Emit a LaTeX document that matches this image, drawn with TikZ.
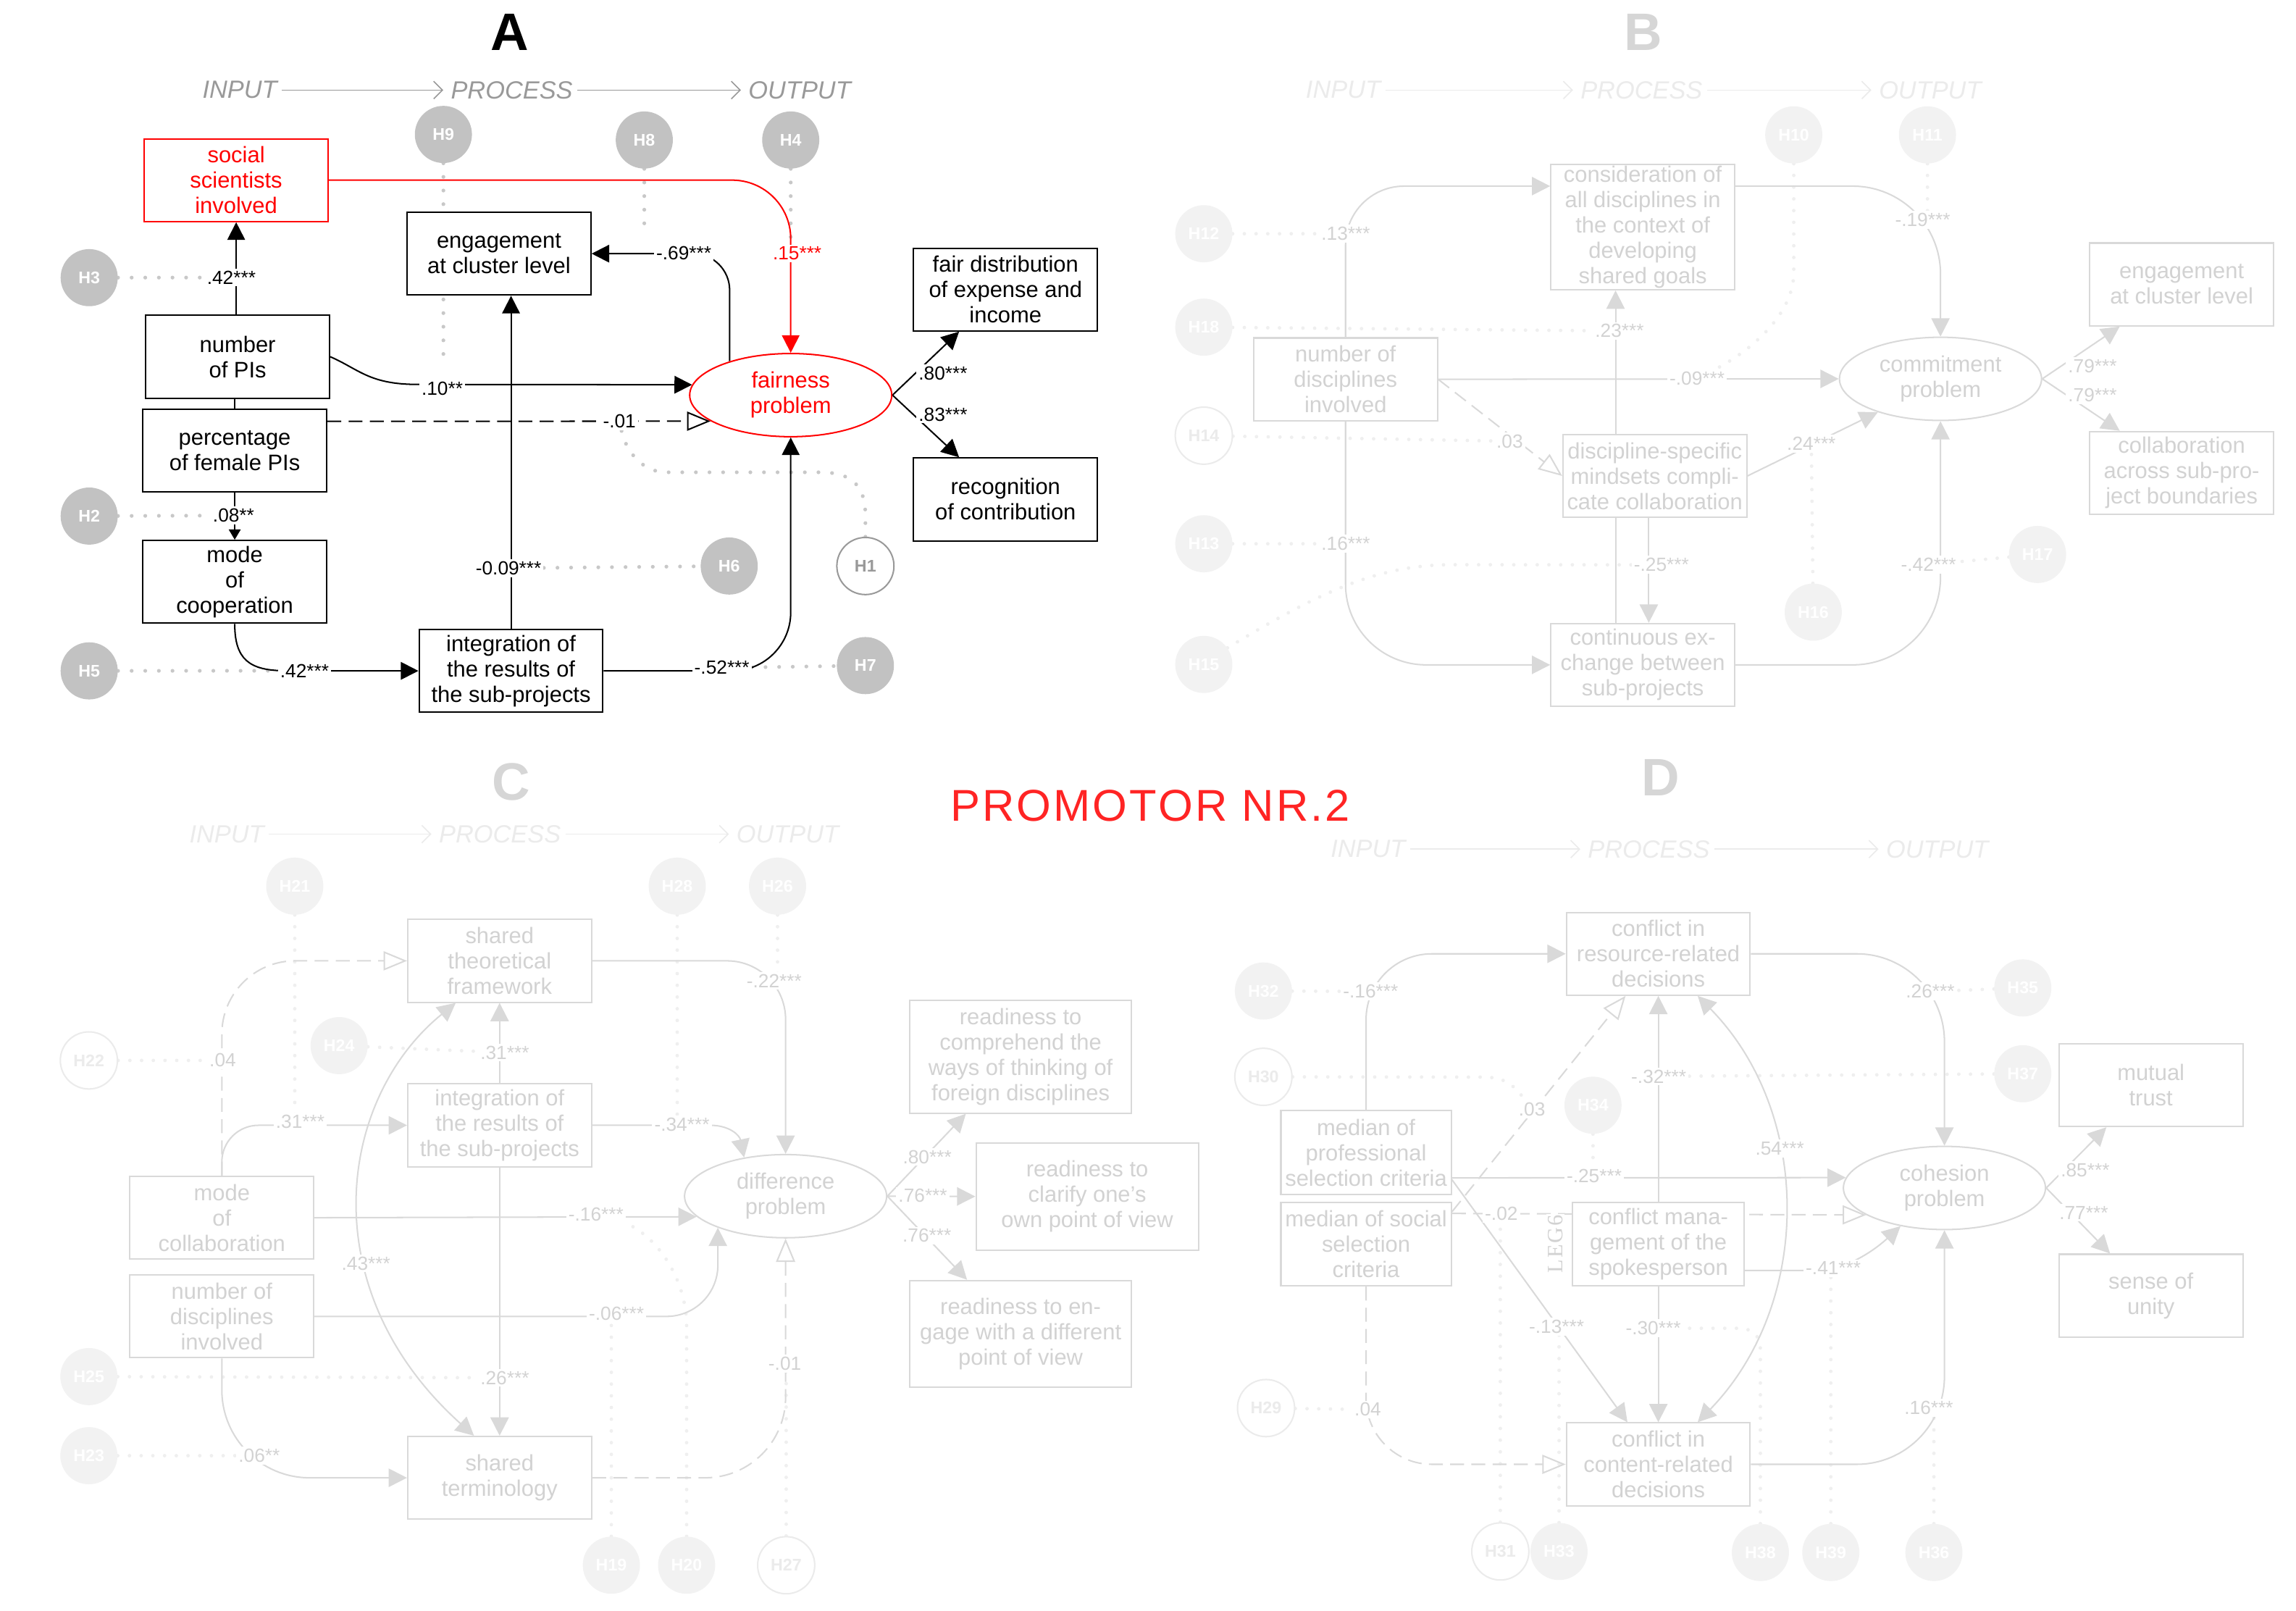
\documentclass[tikz,border=0pt]{standalone}
\usepackage{fontspec}
\setmainfont{Liberation Sans}
\newfontfamily\legfont[LetterSpace=6]{Liberation Serif}
\newfontfamily\promofont[LetterSpace=5]{Liberation Sans}
\usetikzlibrary{arrows.meta,shapes.geometric}

\pgfdeclarelayer{paper}
\pgfdeclarelayer{dots}
\pgfdeclarelayer{wires}
\pgfdeclarelayer{tags}
\pgfsetlayers{paper,dots,wires,main,tags}

\definecolor{hypA}{HTML}{C2C2C2}
\definecolor{dotA}{HTML}{C8C8C8}
\definecolor{ioA}{HTML}{999999}
\definecolor{redA}{HTML}{FF0000}
\definecolor{promo}{HTML}{FF2424}
\definecolor{pale}{HTML}{D9D9D9}
\definecolor{paleText}{HTML}{D2D2D2}
\definecolor{paleHyp}{HTML}{F2F2F2}
\definecolor{paleDot}{HTML}{EFEFEF}
\definecolor{paleRing}{HTML}{EBEBEB}
\definecolor{paleIO}{HTML}{EBEBEB}
\definecolor{paleLetter}{HTML}{D6D6D6}

\newcommand\bxfont{\fontsize{15.3}{17.3}\selectfont}
\newcommand\lbfont{\fontsize{13}{14}\selectfont}
\newcommand\hyfont{\fontsize{11.5}{12}\selectfont\bfseries}
\newcommand\iofont{\fontsize{17}{19}\selectfont\itshape}
\newcommand\ttlfont{\fontsize{36}{40}\selectfont\bfseries}

\begin{document}
\begin{tikzpicture}[x=1pt, y=-1pt,
  bx/.style={draw, fill=white, line width=1pt, minimum width=125.5pt, minimum height=56.5pt, inner sep=0pt, align=center, font=\bxfont},
  bxA/.style={bx, draw=black, text=black},
  bxP/.style={bx, draw=pale, text=paleText},
  latent/.style={ellipse, draw, fill=white, line width=1pt, minimum width=138pt, minimum height=56.8pt, inner sep=0pt, align=center, font=\bxfont},
  latA/.style={latent, draw=redA, text=redA},
  latP/.style={latent, draw=pale, text=paleText},
  hyp/.style={circle, minimum size=39pt, inner sep=0pt, font=\hyfont},
  hypA/.style={hyp, fill=hypA, text=white},
  hypAo/.style={hyp, fill=white, draw=ioA, line width=1pt, text=ioA},
  hypP/.style={hyp, fill=paleHyp, text=white},
  hypPo/.style={hyp, fill=white, draw=paleRing, line width=1pt, text=paleRing},
  lab/.style={fill=white, inner sep=1.5pt, font=\lbfont},
  labA/.style={lab, text=black},
  labP/.style={lab, text=paleText},
  io/.style={inner sep=0pt, font=\iofont},
  ioTA/.style={io, text=ioA},
  ioTP/.style={io, text=paleIO},
  ioArrA/.style={draw=ioA, line width=0.8pt, -{Straight Barb[length=6pt,width=12pt]}, shorten <=3pt, shorten >=5pt},
  ioArrP/.style={draw=paleIO, line width=0.8pt, -{Straight Barb[length=6pt,width=12pt]}, shorten <=3pt, shorten >=5pt},
  ttlA/.style={font=\ttlfont, text=black},
  ttlP/.style={font=\ttlfont, text=paleLetter},
  wireA/.style={draw=black, line width=1pt},
  arrA/.style={wireA, -{Triangle[length=12pt,width=12pt]}},
  arrAs/.style={wireA, -{Triangle[length=7pt,width=8pt]}},
  arrR/.style={draw=redA, line width=1pt, -{Triangle[length=12pt,width=12pt]}},
  dashA/.style={wireA, dash pattern=on 9.5pt off 5pt, -{Triangle[open,length=16pt,width=13pt]}},
  wireP/.style={draw=pale, line width=1pt},
  arrP/.style={wireP, -{Triangle[length=12.5pt,width=12.5pt]}},
  arrPboth/.style={wireP, {Triangle[length=12.5pt,width=12.5pt]}-{Triangle[length=12.5pt,width=12.5pt]}},
  dashP/.style={wireP, dash pattern=on 9.5pt off 5pt, -{Triangle[open,length=16pt,width=13pt]}},
  dotsA/.style={draw=dotA, line width=2.6pt, line cap=round, dash pattern=on 0pt off 9.3pt},
  dotsP/.style={draw=paleDot, line width=2.4pt, line cap=round, dash pattern=on 0pt off 8pt}
]
\begin{pgfonlayer}{paper}
\fill[white] (0,0) rectangle (1568,1100);
\end{pgfonlayer}
\useasboundingbox (0,0) rectangle (1568,1100);

% ---------------- panel A: nodes ----------------
\node[ttlA] (tA) at (348,22) {A};
\node[ioTA, anchor=east] (inA) at (189.5,61.5) {INPUT};
\node[ioTA] (prA) at (349.5,61.5) {PROCESS};
\node[ioTA, anchor=west] (outA) at (511,61.5) {OUTPUT};

\node[bxA, draw=redA, text=redA] (soc) at (161.3,123) {social\\scientists\\involved};
\node[bxA] (npi) at (162.3,243.6) {number\\of PIs};
\node[bxA] (pct) at (160.3,307.8) {percentage\\of female PIs};
\node[bxA] (mode) at (160.3,397.3) {mode\\of\\cooperation};
\node[bxA] (integ) at (349,458.1) {integration of\\the results of\\the sub-projects};
\node[bxA] (engA) at (340.8,173.2) {engagement\\at cluster level};
\node[latA] (fair) at (540,269.8) {fairness\\problem};
\node[bxA] (fdist) at (686.7,197.7) {fair distribution\\of expense and\\income};
\node[bxA] (recog) at (686.7,341) {recognition\\of contribution};

\node[hypA] (H9) at (302.8,91.8) {H9};
\node[hypA] (H8) at (440,95.6) {H8};
\node[hypA] (H4) at (540,95.6) {H4};
\node[hypA] (H3) at (60.9,189.6) {H3};
\node[hypA] (H2) at (60.9,352.4) {H2};
\node[hypA] (H5) at (60.9,458.1) {H5};
\node[hypA] (H6) at (498,386.5) {H6};
\node[hypAo] (H1) at (591,386.5) {H1};
\node[hypA] (H7) at (591,454.5) {H7};

% ---------------- panel B: nodes ----------------
\node[ttlP] (tB) at (1122,22) {B};
\node[ioTP, anchor=east] (inB) at (943,61.5) {INPUT};
\node[ioTP] (prB) at (1121,61.5) {PROCESS};
\node[ioTP, anchor=west] (outB) at (1283,61.5) {OUTPUT};

\node[bxP] (ndisc) at (918.9,259) {number of\\disciplines\\involved};
\node[bxP, minimum height=85.8pt] (cons) at (1121.9,155) {consideration of\\all disciplines in\\the context of\\developing\\shared goals};
\node[bxP] (dspec) at (1130.1,325) {discipline-specific\\mindsets compli-\\cate collaboration};
\node[bxP] (cont) at (1121.9,454) {continuous ex-\\change between\\sub-projects};
\node[latP] (commit) at (1325.2,258.7) {commitment\\problem};
\node[bxP] (engB) at (1489.9,194.2) {engagement\\at cluster level};
\node[bxP] (collab) at (1489.9,322.9) {collaboration\\across sub-pro-\\ject boundaries};

\node[hypP] (H12) at (822.1,159.6) {H12};
\node[hypP] (H18) at (822.1,223.4) {H18};
\node[hypPo] (H14) at (822.1,297.5) {H14};
\node[hypP] (H13) at (822.1,371.3) {H13};
\node[hypP] (H15) at (822.1,453.7) {H15};
\node[hypP] (H10) at (1225,92.1) {H10};
\node[hypP] (H11) at (1316.3,92.1) {H11};
\node[hypP] (H16) at (1238.3,418) {H16};
\node[hypP] (H17) at (1391.5,378.6) {H17};

% ---------------- panel C: nodes ----------------
\node[ttlP] (tC) at (349,534) {C};
\node[ioTP, anchor=east] (inC) at (180.6,569.6) {INPUT};
\node[ioTP] (prC) at (341.4,569.6) {PROCESS};
\node[ioTP, anchor=west] (outC) at (502.8,569.6) {OUTPUT};

\node[bxP] (ctheo) at (341.2,656.1) {shared\\theoretical\\framework};
\node[bxP] (cinteg) at (341.2,768.4) {integration of\\the results of\\the sub-projects};
\node[bxP] (cmode) at (151.5,831.5) {mode\\of\\collaboration};
\node[bxP] (cndisc) at (151.5,898.9) {number of\\disciplines\\involved};
\node[bxP] (cterm) at (341.2,1009.1) {shared\\terminology};
\node[latP] (diff) at (536.5,816.8) {difference\\problem};
\node[bxP, minimum width=151.3pt, minimum height=76.9pt] (rcomp) at (697,721.6) {readiness to\\comprehend the\\ways of thinking of\\foreign disciplines};
\node[bxP, minimum width=151.9pt, minimum height=73.3pt] (rclar) at (742.5,817) {readiness to\\clarify one's\\own point of view};
\node[bxP, minimum width=151.3pt, minimum height=72.9pt] (reng) at (697,910.8) {readiness to en-\\gage with a different\\point of view};

\node[hypP] (H21) at (201.3,605.1) {H21};
\node[hypP] (H28) at (462.5,605.1) {H28};
\node[hypP] (H26) at (531,605.1) {H26};
\node[hypPo] (H22) at (60.7,724.1) {H22};
\node[hypP] (H24) at (231.6,714) {H24};
\node[hypP] (H25) at (60.7,940) {H25};
\node[hypP] (H23) at (60.7,994) {H23};
\node[hypP] (H19) at (417.5,1068.8) {H19};
\node[hypP] (H20) at (468.9,1068.8) {H20};
\node[hypPo] (H27) at (536.9,1068.8) {H27};

\node[text=promo, font=\promofont\fontsize{30.4}{34}\selectfont] (promo) at (785.5,550) {PROMOTOR NR.2};

% ---------------- panel D: nodes ----------------
\node[ttlP] (tD) at (1134,531) {D};
\node[ioTP, anchor=east] (inD) at (960,579.8) {INPUT};
\node[ioTP] (prD) at (1126,579.8) {PROCESS};
\node[ioTP, anchor=west] (outD) at (1287.9,579.8) {OUTPUT};

\node[bxP] (dres) at (1132.5,651.3) {conflict in\\resource-related\\decisions};
\node[bxP, minimum width=116.3pt, minimum height=57pt] (dprof) at (932.9,787) {median of\\professional\\selection criteria};
\node[bxP, minimum width=116.3pt, minimum height=57pt] (dsoc) at (932.9,849.5) {median of social\\selection\\criteria};
\node[bxP, minimum width=116.9pt, minimum height=57pt] (dmgmt) at (1132.5,849.5) {conflict mana-\\gement of the\\spokesperson};
\node[bxP] (dcont) at (1132.5,999.9) {conflict in\\content-related\\decisions};
\node[latP] (coh) at (1327.9,811.2) {cohesion\\problem};
\node[bxP] (trust) at (1468.9,741) {mutual\\trust};
\node[bxP] (unity) at (1468.9,884.7) {sense of\\unity};
\node[fill=white, inner sep=1pt, text=paleText, rotate=90, font=\legfont\fontsize{15}{16}\selectfont] (leg) at (1062.2,849.5) {LEG6};

\node[hypP] (H32) at (862.8,676.7) {H32};
\node[hypPo] (H30) at (862.8,735.3) {H30};
\node[hypP] (H34) at (1087.9,754.7) {H34};
\node[hypPo] (H29) at (864.6,961.5) {H29};
\node[hypPo] (H31) at (1024.6,1059.4) {H31};
\node[hypP] (H33) at (1064.7,1059.4) {H33};
\node[hypP] (H38) at (1202.2,1060.1) {H38};
\node[hypP] (H39) at (1250.3,1060.1) {H39};
\node[hypP] (H36) at (1320.7,1060.1) {H36};
\node[hypP] (H35) at (1381.4,674.6) {H35};
\node[hypP] (H37) at (1381.4,733.2) {H37};

% ---------------- path coefficients ----------------
\begin{pgfonlayer}{tags}
\node[labA] (lAa) at (158,189.5) {.42***};
\node[labA] (lAb) at (159.5,352) {.08**};
\node[labA] (lAc) at (208,458) {.42***};
\node[labA] (lAd) at (347.3,388) {-0.09***};
\node[labA] (lAe) at (302,265.5) {.10**};
\node[labA] (lAf) at (423,287.7) {-.01};
\node[labA] (lAg) at (467,173) {-.69***};
\node[labA, text=redA] (lAh) at (544.4,173) {.15***};
\node[labA] (lAi) at (493,456) {-.52***};
\node[labA] (lAj) at (644,255) {.80***};
\node[labA] (lAk) at (644,283) {.83***};

\node[labP] (lBa) at (919,159.6) {.13***};
\node[labP] (lBb) at (1106,226) {.23***};
\node[labP] (lBc) at (1159,258.5) {-.09***};
\node[labP] (lBd) at (1031,301.3) {.03};
\node[labP] (lBe) at (919,371.3) {.16***};
\node[labP] (lBf) at (1134.6,385.7) {-.25***};
\node[labP] (lBg) at (1313,150) {-.19***};
\node[labP] (lBh) at (1237,303) {.24***};
\node[labP] (lBi) at (1317,385.5) {-.42***};
\node[labP] (lBj) at (1429,250) {.79***};
\node[labP] (lBk) at (1429,270) {.79***};

\node[labP] (lCa) at (152.1,724.1) {.04};
\node[labP] (lCb) at (205,766) {.31***};
\node[labP] (lCc) at (344.7,718.7) {.31***};
\node[labP] (lCd) at (249.9,862.7) {.43***};
\node[labP] (lCe) at (344.7,940.8) {.26***};
\node[labP] (lCf) at (177,994) {.06**};
\node[labP] (lCg) at (407,829) {-.16***};
\node[labP] (lCh) at (421,897) {-.06***};
\node[labP] (lCi) at (528.7,669.7) {-.22***};
\node[labP] (lCj) at (465.7,768) {-.34***};
\node[labP] (lCk) at (536,931) {-.01};
\node[labP] (lCl) at (633.2,790) {.80***};
\node[labP] (lCm) at (630.2,816.6) {.76***};
\node[labP] (lCn) at (633,843.8) {.76***};

\node[labP] (lDa) at (936,677) {-.16***};
\node[labP] (lDb) at (1046.2,757.5) {.03};
\node[labP] (lDc) at (1088.7,803) {-.25***};
\node[labP] (lDd) at (1025.3,828.6) {-.02};
\node[labP] (lDe) at (1063,906) {-.13***};
\node[labP] (lDf) at (934.1,962.5) {.04};
\node[labP] (lDg) at (1132.8,735) {-.32***};
\node[labP] (lDh) at (1129,907) {-.30***};
\node[labP] (lDi) at (1215.4,784.2) {.54***};
\node[labP] (lDj) at (1318.2,677) {.26***};
\node[labP] (lDk) at (1252,866) {-.41***};
\node[labP] (lDl) at (1317.2,961.2) {.16***};
\node[labP] (lDm) at (1424,799) {.85***};
\node[labP] (lDn) at (1423,828) {.77***};
\end{pgfonlayer}

% ---------------- connectors ----------------
\begin{pgfonlayer}{wires}
% row headers
\draw[ioArrA] (inA.east) -- (prA.west);
\draw[ioArrA] (prA.east) -- (outA.west);
\draw[ioArrP] (inB.east) -- (prB.west);
\draw[ioArrP] (prB.east) -- (outB.west);
\draw[ioArrP] (inC.east) -- (prC.west);
\draw[ioArrP] (prC.east) -- (outC.west);
\draw[ioArrP] (inD.east) -- (prD.west);
\draw[ioArrP] (prD.east) -- (outD.west);

% panel A
\draw[arrA] (npi.north -| soc.south) -- (soc.south);
\draw[wireA] (pct.north) -- (pct.north |- npi.south);
\draw[arrAs] (pct.south) -- (mode.north);
\draw[arrA] (mode.south) .. controls (160.3,450) and (170,458) .. (195,458) -- (integ.west);
\draw[arrA] (integ.north) -- (integ.north |- engA.south);
\draw[arrA] (npi.east) .. controls (245,252) and (252,262.5) .. (285,262.5) -- (fair.174);
\draw[dashA] ([yshift=20.1pt]pct.east) -- (fair.198.5);
\draw[arrA, rounded corners=25pt] (fair.151) |- (engA.east);
\draw[arrR, rounded corners=40pt] (soc.east) -| (fair.north);
\draw[arrA, rounded corners=40pt] (integ.east) -| (fair.south);
\draw[arrA] (fair.east) -- ([xshift=-31.7pt]fdist.south);
\draw[arrA] (fair.east) -- ([xshift=-31.7pt]recog.north);

% panel B
\draw[arrP, rounded corners=40pt] (ndisc.north) |- ([yshift=27.9pt]cons.west);
\draw[arrP] ([xshift=-18.6pt]cont.north) -- ([xshift=-18.6pt]cons.south);
\draw[arrP] (ndisc.east) -- (commit.west);
\draw[dashP] (ndisc.east) -- (dspec.west);
\draw[arrP, rounded corners=55pt] (ndisc.south) |- (cont.west);
\draw[arrP] ([xshift=-4.1pt]dspec.south) -- ([xshift=4.1pt]cont.north);
\draw[arrP, rounded corners=60pt] ([yshift=27.9pt]cons.east) -| (commit.north);
\draw[arrP] (dspec.east) -- (commit.208);
\draw[arrP, rounded corners=60pt] (cont.east) -| (commit.south);
\draw[arrP] (commit.east) -- ([xshift=-42.3pt]engB.south);
\draw[arrP] (commit.east) -- ([xshift=-42.3pt]collab.north);

% panel C
\draw[dashP, rounded corners=50pt] (cmode.north) |- (ctheo.west);
\draw[arrP, rounded corners=25pt] (cmode.north) |- (cinteg.west);
\draw[arrP] (cinteg.north) -- (ctheo.south);
\draw[arrP] (cinteg.south) -- (cterm.north);
\draw[arrP, rounded corners=60pt] (cndisc.south) |- (cterm.west);
\draw[arrPboth] ([xshift=-30pt]ctheo.south) .. controls (231,750) and (212,880) .. ([xshift=-17.5pt]cterm.north);
\draw[arrP] (cmode.east) -- (diff.193);
\draw[arrP, rounded corners=35pt] (cndisc.east) -| (diff.205);
\draw[arrP, rounded corners=40pt] (ctheo.east) -| (diff.north);
\draw[arrP] (cinteg.east) -- (485,768.4) .. controls (498,768.4) and (505,775) .. (diff.137);
\draw[dashP, rounded corners=55pt] (cterm.east) -| (diff.south);
\draw[arrP] (diff.east) -- ([xshift=-37.4pt]rcomp.south);
\draw[arrP] (diff.east) -- (rclar.west);
\draw[arrP] (diff.east) -- ([xshift=-36.6pt]reng.north);

% panel D
\draw[arrP, rounded corners=45pt] (dprof.north) |- (dres.west);
\draw[dashP] ([yshift=-7pt]dsoc.north east) -- ([xshift=-22.4pt]dres.south);
\draw[arrP] ([yshift=-17.3pt]dprof.east) -- (coh.174);
\draw[dashP] ([yshift=20.9pt]dsoc.east) -- (coh.199);
\draw[arrP] ([yshift=10.5pt]dprof.south east) -- ([xshift=-21.1pt]dcont.north);
\draw[dashP, rounded corners=45pt] (dsoc.south) |- (dcont.west);
\draw[arrP] (dmgmt.north) -- (dres.south);
\draw[arrP] (dmgmt.south) -- (dcont.north);
\draw[arrPboth] ([xshift=26.9pt]dres.south) .. controls (1238,760) and (1238,890) .. ([xshift=26.9pt]dcont.north);
\draw[arrP, rounded corners=60pt] (dres.east) -| (coh.north);
\draw[arrP] ([yshift=-18pt]dmgmt.east) -- (1240,867.5) .. controls (1262,867.5) and (1282,852) .. (coh.221);
\draw[arrP, rounded corners=60pt] (dcont.east) -| (coh.south);
\draw[arrP] (coh.east) -- ([xshift=-30.4pt]trust.south);
\draw[arrP] (coh.east) -- ([xshift=-27.9pt]unity.north);
\end{pgfonlayer}

% ---------------- hypothesis markers ----------------
\coordinate (h9end) at (302.8,243);
\coordinate (h8end) at (440,158);
\begin{pgfonlayer}{dots}
\draw[dotsA] (H3) -- (lAa);
\draw[dotsA] (H2) -- (lAb);
\draw[dotsA] (H5) -- (lAc);
\draw[dotsA] (lAd) -- (H6);
\draw[dotsA] (lAi) -- (H7);
\draw[dotsA] (H9) -- (h9end);
\draw[dotsA] (H8) -- (h8end);
\draw[dotsA] (H4) -- (H4 |- lAh);
\draw[dotsA] (H1.north) -- (591,352) .. controls (591,330) and (580,322.5) .. (560,322.5) -- (455,322.5) .. controls (440,322.5) and (428,310) .. (lAf);

\draw[dotsP] (H12) -- (lBa);
\draw[dotsP] (H18) -- (lBb);
\draw[dotsP] (H14) -- (lBd);
\draw[dotsP] (H13) -- (lBe);
\draw[dotsP] (H15.35) .. controls (900,405) and (940,386) .. (990,385.6) -- (lBf);
\draw[dotsP] (H10) -- (1225,186) .. controls (1225,215) and (1195,240) .. (lBc);
\draw[dotsP] (H11) -- (H11 |- lBg);
\draw[dotsP] (H16) -- (lBh);
\draw[dotsP] (H17) -- (lBi);

\draw[dotsP] (H21) -- (H21 |- lCb);
\draw[dotsP] (H22) -- (lCa);
\draw[dotsP] (H24) -- (lCc);
\draw[dotsP] (H25) -- (lCe);
\draw[dotsP] (H23) -- (lCf);
\draw[dotsP] (H28) -- (H28 |- lCj);
\draw[dotsP] (H26) -- (H26 |- lCi);
\draw[dotsP] (H19) -- (H19 |- lCh);
\draw[dotsP] (H20) -- (468.9,905) .. controls (468.9,875) and (450,845) .. (lCg.south east);
\draw[dotsP] (H27) -- (H27 |- lCk);

\draw[dotsP] (H32) -- (lDa);
\draw[dotsP] (H30) -- (1015,735.5) .. controls (1028,736) and (1034,741) .. (lDb);
\draw[dotsP] (H34) -- (H34 |- lDc);
\draw[dotsP] (H29) -- (lDf);
\draw[dotsP] (H31) -- (H31 |- lDd);
\draw[dotsP] (H33) -- (H33 |- lDe);
\draw[dotsP] (H38) -- (1202.2,922) .. controls (1202.2,912) and (1197,907) .. (1187,907) -- (lDh);
\draw[dotsP] (H39) -- (H39 |- lDk);
\draw[dotsP] (H36) -- (H36 |- lDl);
\draw[dotsP] (H35) -- (lDj);
\draw[dotsP] (H37) -- (lDg);
\end{pgfonlayer}
\end{tikzpicture}
\end{document}
